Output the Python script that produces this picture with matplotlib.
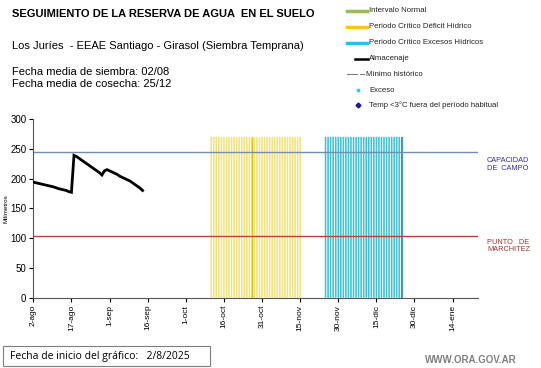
import matplotlib.pyplot as plt
from matplotlib.lines import Line2D
from matplotlib.patches import Rectangle

plt.rcParams['font.family'] = ['Liberation Sans', 'DejaVu Sans']

# --- data ---
tick_days = [0, 15, 30, 45, 60, 75, 90, 105, 120, 135, 150, 165]
tick_labels = ["2-ago", "17-ago", "1-sep", "16-sep", "1-oct", "16-oct",
               "31-oct", "15-nov", "30-nov", "15-dic", "30-dic", "14-ene"]

storage_days = list(range(0, 44))
storage_mm = [194, 193, 192, 191, 190, 189, 188, 187, 186, 184.5, 183, 182,
              181, 180, 178, 177, 239, 237, 234, 231, 228, 225, 222, 219,
              216, 213, 210, 206, 213, 215, 213, 211, 209, 207, 204, 202,
              200, 198, 196, 193, 190, 187, 184, 180]

deficit_start, deficit_end, deficit_mark = 70, 105, 86
excess_start, excess_end, excess_mark = 115, 145, 145
period_height = 270

field_capacity = 244
wilting_point = 103

fig = plt.figure(figsize=(5.41, 3.68), dpi=100)
ax = fig.add_axes([0.0616, 0.191, 0.8220, 0.4856])

deficit_days = list(range(deficit_start, deficit_end + 1))
excess_days = list(range(excess_start, excess_end + 1))
ax.vlines(deficit_days, 0, period_height, color="#f2e27e", lw=1.15, zorder=1,
          snap=False)
ax.vlines([deficit_mark], 0, period_height, color="#e0c400", lw=1.0, zorder=1)
ax.vlines(excess_days, 0, period_height, color="#3ec2d8", lw=1.15, zorder=1,
          snap=False)
ax.vlines([excess_mark], 0, period_height, color="#1598b0", lw=1.1, zorder=1)

ax.axhline(field_capacity, color="#6f8fb5", lw=1.0, zorder=2)
ax.axhline(wilting_point, color="#b84040", lw=1.0, zorder=2)

ax.plot(storage_days, storage_mm, color="black", lw=2.0, zorder=3,
        solid_joinstyle="miter")

ax.set_xlim(0, 175)
ax.set_ylim(0, 300)
ax.set_yticks([0, 50, 100, 150, 200, 250, 300])
ax.set_xticks(tick_days)
ax.set_xticklabels(tick_labels, rotation=90, fontsize=6)
ax.tick_params(axis="y", labelsize=7, length=3, width=0.8, pad=2)
ax.tick_params(axis="x", length=3, width=0.8, pad=2)
for side in ("top", "right"):
    ax.spines[side].set_visible(False)
for side in ("left", "bottom"):
    ax.spines[side].set_color("#555555")
    ax.spines[side].set_linewidth(0.8)
ax.set_ylabel("Milímetros", fontsize=4.5, labelpad=1)

ax.text(1.02, 0.785, "CAPACIDAD\nDE  CAMPO", transform=ax.transAxes,
        fontsize=5.3, color="#333399", va="top", ha="left", linespacing=1.1)
ax.text(1.02, 0.33, "PUNTO   DE\nMARCHITEZ", transform=ax.transAxes,
        fontsize=5.3, color="#993333", va="top", ha="left", linespacing=1.1)

# header texts
fig.text(12 / 541, 1 - 14 / 368, "SEGUIMIENTO DE LA RESERVA DE AGUA  EN EL SUELO",
         fontsize=8, fontweight="bold", va="center", ha="left")
fig.text(12 / 541, 1 - 46 / 368,
         "Los Juríes  - EEAE Santiago - Girasol (Siembra Temprana)",
         fontsize=8, va="center", ha="left")
fig.text(12 / 541, 1 - 72 / 368, "Fecha media de siembra: 02/08",
         fontsize=8, va="center", ha="left")
fig.text(12 / 541, 1 - 84 / 368, "Fecha media de cosecha: 25/12",
         fontsize=8, va="center", ha="left")

# legend drawn in figure coordinates
legend_rows = [
    ("Intervalo Normal", "bar", "#9bbb59"),
    ("Periodo Crítico Déficit Hídrico", "bar", "#f5c518"),
    ("Periodo Crítico Excesos Hídricos", "bar", "#1fc4e8"),
    ("Almacenaje", "line", "black"),
    ("Mínimo histórico", "dash", "#808080"),
    ("Exceso", "dot", "#33ccee"),
    ("Temp <3°C fuera del período habitual", "diamond", "#1a1a99"),
]
row_y = [11, 27, 43, 59, 74, 90, 105]
W, H = 541.0, 368.0
for (label, kind, color), y in zip(legend_rows, row_y):
    fy = 1 - y / H
    if kind == "bar":
        fig.add_artist(Line2D([347 / W, 367 / W], [fy, fy], color=color, lw=2.5))
        tx = 369
    elif kind == "line":
        fig.add_artist(Line2D([355 / W, 368 / W], [fy, fy], color=color, lw=1.8))
        tx = 369
    elif kind == "dash":
        fig.add_artist(Line2D([347 / W, 357 / W], [fy, fy], color=color, lw=0.8))
        fig.add_artist(Line2D([360 / W, 364 / W], [fy, fy], color=color, lw=0.8))
        tx = 366
    elif kind == "dot":
        fig.add_artist(Line2D([358 / W], [fy], marker="o", ms=1.8, color=color, lw=0))
        tx = 369
    else:
        fig.add_artist(Line2D([358 / W], [fy], marker="D", ms=2.5, color=color, lw=0))
        tx = 369
    fig.text(tx / W, fy, label, fontsize=5.6, va="center", ha="left", color="#222222")

# footer
fig.add_artist(Rectangle((3 / W, 1 - 366 / H), 207 / W, 20 / H,
                         transform=fig.transFigure, fill=False,
                         edgecolor="#7f7f7f", lw=0.8))
fig.text(10 / W, 1 - 356 / H, "Fecha de inicio del gráfico:   2/8/2025",
         fontsize=7.5, va="center", ha="left", family=["Open Sans", "DejaVu Sans"])
fig.text(517 / W, 1 - 360 / H, "WWW.ORA.GOV.AR", fontsize=7, fontweight="bold",
         color="#808080", va="center", ha="right")

fig.savefig("out.png", dpi=100)
plt.close(fig)
